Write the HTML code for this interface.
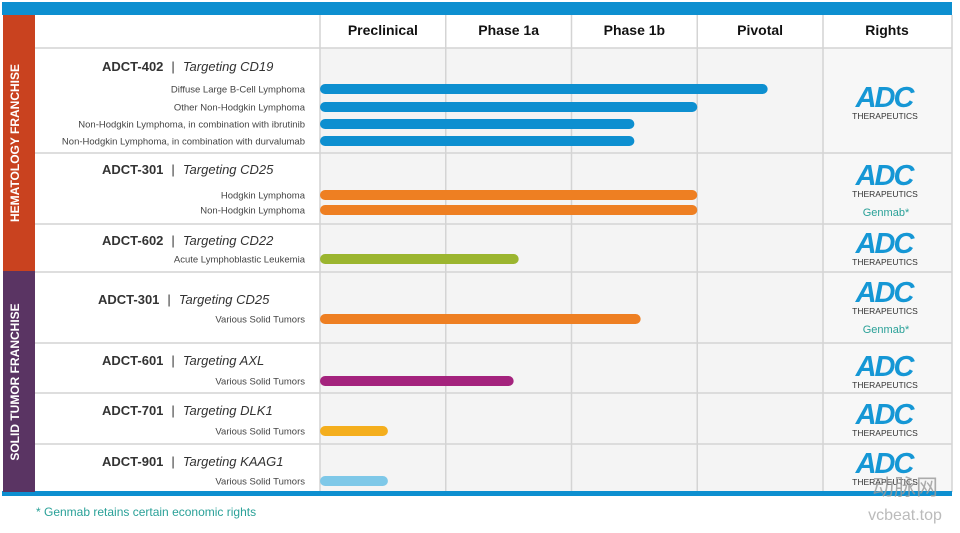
<!DOCTYPE html>
<html><head><meta charset="utf-8"><style>
body{margin:0;width:960px;height:533px;background:#fff;font-family:"Liberation Sans",Arial,sans-serif;position:relative;overflow:hidden}
</style></head><body>
<svg id="c" width="960" height="533" xmlns="http://www.w3.org/2000/svg" style="position:absolute;left:0;top:0"></svg>
<script>
const stages=["Preclinical","Phase 1a","Phase 1b","Pivotal"];
const programs=["ADCT-402","ADCT-301","ADCT-602","ADCT-301","ADCT-601","ADCT-701","ADCT-901"];
const targets=["Targeting CD19","Targeting CD25","Targeting CD22","Targeting CD25","Targeting AXL","Targeting DLK1","Targeting KAAG1"];
const indications=["Diffuse Large B-Cell Lymphoma","Other Non-Hodgkin Lymphoma","Non-Hodgkin Lymphoma, in combination with ibrutinib","Non-Hodgkin Lymphoma, in combination with durvalumab","Hodgkin Lymphoma","Non-Hodgkin Lymphoma","Acute Lymphoblastic Leukemia","Various Solid Tumors","Various Solid Tumors","Various Solid Tumors","Various Solid Tumors"];
const indProgram=[0,0,0,0,1,1,2,3,4,5,6];
const progress=[3.56,3.0,2.5,2.5,3.0,3.0,1.58,2.55,1.54,0.54,0.54];
const genmab=[false,true,false,true,false,false,false];
// layout
const S="http://www.w3.org/2000/svg",svg=document.getElementById('c');
function el(t,a,txt){const e=document.createElementNS(S,t);for(const k in a)e.setAttribute(k,a[k]);if(txt!=null)e.textContent=txt;svg.appendChild(e);return e;}
const x0=320,stageW=125.75;const xs=v=>x0+v*stageW;
const rowTops=[48,153,224,272,343,393,444,492];
const titleY=[66,169,240,299,360,410,461];
const logoY=[107,185,253,302,376,424,473];
const barY=[89,107,124,141,195,210,259,319,381,431,481];
const colors=["#0d8fd0","#ee7f22","#9bb52f","#ee7f22","#a4237d","#f4ae1d","#7ec8e8"];
let r=el('rect',{x:320,y:48,width:632,height:444,fill:'#f4f4f4'});
el('rect',{x:823,y:48,width:129,height:444,fill:'#f7f7f7'});
for(let i=0;i<=5;i++){const x=i<5?xs(i):952;const g=el('line',{x1:x,y1:15,x2:x,y2:492,stroke:'#d4d4d4','stroke-width':1.5});}
rowTops.forEach(y=>{const g=el('line',{x1:35,y1:y,x2:952,y2:y,stroke:'#d4d4d4','stroke-width':1.5});});
r=el('rect',{x:2,y:2,width:950,height:13,fill:'#0d8fd0'});
r=el('rect',{x:2,y:491,width:950,height:5,fill:'#0d8fd0'});
r=el('rect',{x:3,y:15,width:32,height:256,fill:'#c9421f'});
r=el('rect',{x:3,y:271,width:32,height:221,fill:'#5a3463'});
let t=el('text',{x:19,y:143,fill:'#fff','font-size':12,'font-weight':'bold','text-anchor':'middle',transform:'rotate(-90 19 143)'},'HEMATOLOGY FRANCHISE');
t=el('text',{x:19,y:382,fill:'#fff','font-size':12,'font-weight':'bold','text-anchor':'middle',transform:'rotate(-90 19 382)'},'SOLID TUMOR FRANCHISE');
stages.forEach((s,i)=>{const h=el('text',{x:xs(i)+stageW/2,y:35,'font-size':14,'font-weight':'bold','text-anchor':'middle',fill:'#111'},s);});
t=el('text',{x:887,y:35,'font-size':14,'font-weight':'bold','text-anchor':'middle',fill:'#111'},'Rights');
programs.forEach((p,i)=>{const tt=el('text',{x:i==3?98:102,y:titleY[i]+5,'font-size':13,fill:'#333'});
 tt.innerHTML='<tspan font-weight="bold">'+p+'</tspan><tspan dx="8">|</tspan><tspan dx="8" font-style="italic">'+targets[i]+'</tspan>';
 const by=logoY[i];
 const lg=el('text',{x:884,y:by,'font-size':29,'font-weight':'bold','font-style':'italic','text-anchor':'middle',fill:'#1597d5','letter-spacing':'-2'},'ADC');
 const th=el('text',{x:885,y:by+12,'font-size':8.5,'text-anchor':'middle',fill:'#333'},'THERAPEUTICS');
 if(genmab[i]){const g=el('text',{x:886,y:by+31,'font-size':11,'text-anchor':'middle',fill:'#2aa198'},'Genmab*');}
});
indications.forEach((n,i)=>{const tt=el('text',{x:305,y:barY[i]+3.5,'font-size':9.5,'text-anchor':'end',fill:'#444'},n);
 const b=el('rect',{x:x0,y:barY[i]-5,width:xs(progress[i])-x0,height:10,rx:5,fill:colors[indProgram[i]]});});
t=el('text',{x:36,y:516,'font-size':12,fill:'#2aa198'},'* Genmab retains certain economic rights');
t=el('text',{x:905,y:495,'font-size':22,'text-anchor':'middle',fill:'#999',opacity:0.8,'font-family':'"Noto Sans CJK SC",sans-serif'},'动脉网');
t=el('text',{x:905,y:520,'font-size':16,'text-anchor':'middle',fill:'#bbb'},'vcbeat.top');
</script>
</body></html>
